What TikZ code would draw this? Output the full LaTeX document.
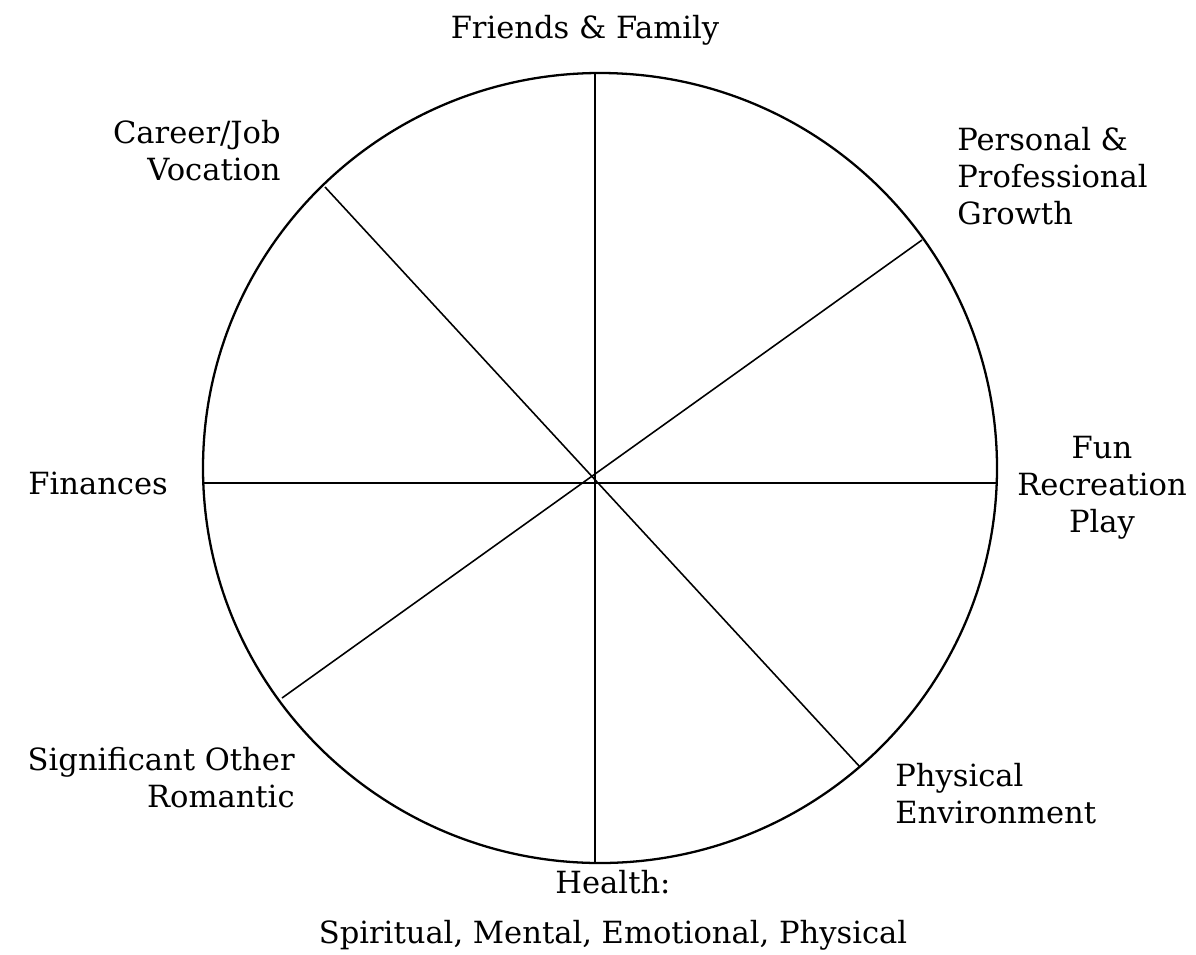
\documentclass[tikz,border=0pt]{standalone}
\usepackage{fontspec}
\setmainfont{DejaVu Serif}
\begin{document}
\begin{tikzpicture}[x=0.02cm,y=-0.02cm,
  lbl/.style={inner sep=0pt,font=\fontsize{17.4}{21}\selectfont},
  spoke/.style={line width=1.1pt}]
\useasboundingbox (0,0) rectangle (1196,954);
\draw[line width=1.3pt] (600,468) ellipse [x radius=397, y radius=395];
\coordinate (c) at (596,481);
\coordinate (n) at (595,73);
\coordinate (s) at (595,864);
\coordinate (w) at (204,483);
\coordinate (e) at (997,483);
\coordinate (nw) at (325,187);
\coordinate (se) at (860,767);
\coordinate (ne) at (922,240);
\coordinate (sw) at (282,698);
\draw[spoke] (n) -- (s);
\draw[spoke] (w) -- (e);
\draw[spoke,line width=0.9pt] (nw) -- (se);
\draw[spoke,line width=0.9pt] (ne) -- (sw);
\node[lbl] (ff) at (585,30) {Friends \& Family};
\node[lbl,anchor=east,align=right] (cj) at (281,151) {Career/Job\\Vocation};
\node[lbl,anchor=west,align=left] (pg) at (957,176) {Personal \&\\Professional\\Growth};
\node[lbl,align=center] (fun) at (1102,488) {Fun\\Recreation\\Play};
\node[lbl,anchor=west] (fin) at (28,483) {Finances};
\node[lbl,anchor=east,align=right] (so) at (295,778) {Significant Other\\Romantic};
\node[lbl,anchor=west,align=left] (pe) at (895,794) {Physical\\Environment};
\node[lbl] (h1) at (613,882) {Health:};
\node[lbl] (h2) at (613,935) {Spiritual, Mental, Emotional, Physical};
\end{tikzpicture}
\end{document}
